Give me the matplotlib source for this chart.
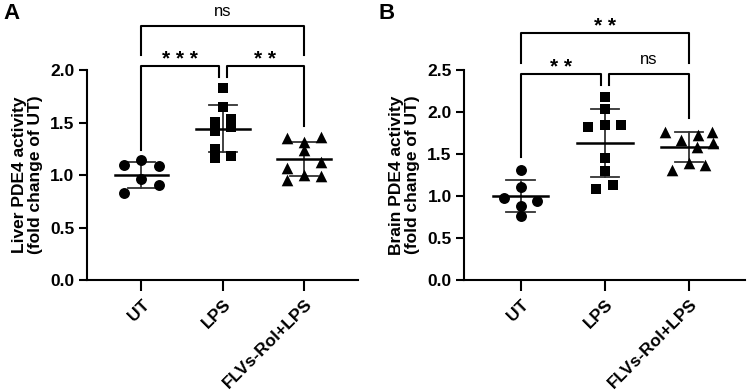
import matplotlib
matplotlib.use('Agg')
import matplotlib.pyplot as plt
import numpy as np

plt.rcParams['font.family'] = ['Liberation Sans', 'DejaVu Sans']
plt.rcParams['font.weight'] = 'bold'

groups = ['UT', 'LPS', 'FLVs-Rol+LPS']

# panel A: liver PDE4 activity (fold change of UT)
liver_ut = [1.095, 1.143, 1.086, 0.959, 0.905, 0.831]
liver_lps = [1.831, 1.645, 1.508, 1.422, 1.248, 1.159, 1.530, 1.454, 1.184]
liver_flv = [1.35, 1.365, 1.311, 1.238, 1.070, 1.121, 1.0, 0.99, 0.95]

# panel B: brain PDE4 activity (fold change of UT)
brain_ut = [1.31, 1.104, 0.98, 0.94, 0.885, 0.762]
brain_lps = [2.18, 2.036, 1.825, 1.845, 1.845, 1.456, 1.298, 1.083, 1.131]
brain_flv = [1.766, 1.766, 1.667, 1.726, 1.587, 1.635, 1.31, 1.389, 1.369]

# horizontal scatter of the points inside each group (category units)
jit_ut = [-0.21, 0.0, 0.21, 0.0, 0.21, -0.21]
jit_lps = [0.0, 0.0, -0.1, -0.1, -0.1, -0.1, 0.1, 0.1, 0.1]
jit_flv = [-0.21, 0.21, 0.0, 0.0, -0.21, 0.21, 0.0, 0.21, -0.21]

jit_ut_b = [0.0, 0.0, -0.2, 0.19, 0.0, 0.0]
jit_lps_b = [0.0, 0.0, -0.2, 0.0, 0.19, 0.0, 0.0, -0.1, 0.1]
jit_flv_b = [-0.29, 0.27, -0.1, 0.1, 0.09, 0.28, -0.2, 0.0, 0.19]

# significance: (x1, x2, top, leg1 bottom, leg2 bottom, label)
sig_a = [(0, 0.95, 2.038, 1.24, 1.93, '* * *'),
         (1.05, 2, 2.038, 1.93, 1.47, '* *'),
         (0, 2, 2.42, 2.14, 2.14, 'ns')]
sig_b = [(0, 0.95, 2.45, 1.47, 2.32, '* *'),
         (1.05, 2, 2.45, 2.32, 1.93, 'ns'),
         (0, 2, 2.94, 2.58, 2.58, '* *')]

fig = plt.figure(figsize=(7.5, 3.9), dpi=100)
axA = fig.add_axes([0.116, 0.282, 0.361, 0.5385])
axB = fig.add_axes([0.619, 0.282, 0.374, 0.5385])


def panel(ax, data, jits, sigs, ymax, ystep, ylabel):
    markers = ['o', 's', '^']
    for i, (vals, jit, m) in enumerate(zip(data, jits, markers)):
        vals = np.array(vals)
        x = i + np.array(jit)
        ax.scatter(x, vals, marker=m, s=62 if m != '^' else 70, color='black',
                   zorder=3, linewidths=0, clip_on=False)
        mu = vals.mean()
        sd = vals.std(ddof=1)
        ax.plot([i - 0.33, i + 0.33], [mu, mu], color='black', lw=1.8, zorder=4)
        ax.plot([i, i], [mu - sd, mu + sd], color='#333333', lw=1.3, zorder=2)
        for yy in (mu - sd, mu + sd):
            ax.plot([i - 0.17, i + 0.17], [yy, yy], color='#333333', lw=1.3, zorder=2)
    for x1, x2, top, b1, b2, lab in sigs:
        ax.plot([x1, x1, x2, x2], [b1, top, top, b2], color='black', lw=1.5,
                clip_on=False)
        if lab == 'ns':
            ax.text((x1 + x2) / 2, top + ymax * 0.035, lab, ha='center', va='bottom',
                    fontsize=12, fontweight='normal')
        else:
            ax.text((x1 + x2) / 2, top - ymax * 0.015, lab, ha='center', va='bottom',
                    fontsize=15, fontweight='bold')
    ax.set_xlim(-0.67, 2.66)
    ax.set_ylim(0, ymax)
    ax.set_yticks(np.arange(0, ymax + 0.01, ystep))
    ax.set_yticklabels(['%.1f' % v for v in np.arange(0, ymax + 0.01, ystep)])
    ax.set_xticks(range(len(groups)))
    ax.set_xticklabels(groups, rotation=45, ha='right', rotation_mode='anchor')
    for s in ('top', 'right'):
        ax.spines[s].set_visible(False)
    for s in ('left', 'bottom'):
        ax.spines[s].set_linewidth(1.5)
    ax.tick_params(axis='both', width=1.5, labelsize=12.5)
    ax.tick_params(axis='y', length=6, pad=3)
    ax.tick_params(axis='x', length=8, pad=4)
    ax.set_ylabel(ylabel, fontsize=12.5, fontweight='bold', labelpad=5,
                  linespacing=1.1)


panel(axA, [liver_ut, liver_lps, liver_flv], [jit_ut, jit_lps, jit_flv], sig_a,
      2.0, 0.5, 'Liver PDE4 activity\n(fold change of UT)')
panel(axB, [brain_ut, brain_lps, brain_flv], [jit_ut_b, jit_lps_b, jit_flv_b], sig_b,
      2.5, 0.5, 'Brain PDE4 activity\n(fold change of UT)')

fig.text(0.005, 0.965, 'A', fontsize=16, fontweight='bold', va='center')
fig.text(0.505, 0.965, 'B', fontsize=16, fontweight='bold', va='center')

fig.savefig('out.png', dpi=100)
